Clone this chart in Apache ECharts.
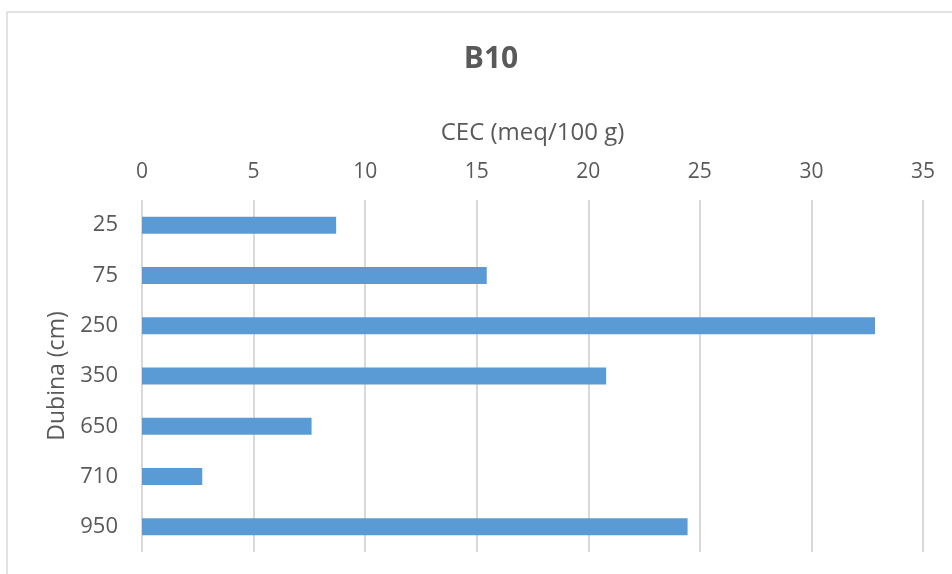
<!DOCTYPE html>
<html><head><meta charset="utf-8">
<script src="https://cdn.jsdelivr.net/npm/echarts@6/dist/echarts.min.js"></script>
<style>html,body{margin:0;padding:0;background:#fff}#c{width:952px;height:574px}</style>
</head><body><div id="c"></div>
<script>
const categories = ['25', '75', '250', '350', '650', '710', '950'];
const cecValues = [8.7, 15.45, 32.85, 20.8, 7.6, 2.7, 24.45];
const xTicks = [0, 35, 5];

const chart = echarts.init(document.getElementById('c'));
const font = 'Open Sans, Liberation Sans, sans-serif';
chart.setOption({
  animation: false,
  backgroundColor: '#fff',
  graphic: [{type: 'rect', shape: {x: 7, y: 12, width: 970, height: 600}, style: {fill: 'none', stroke: '#d9d9d9', lineWidth: 1.5}}],
  title: {text: 'B10', left: 486, top: 39, textAlign: 'center',
    textStyle: {fontFamily: font, fontSize: 30, fontWeight: 'bold', color: '#595959'}},
  grid: {left: 142, right: 29, top: 200, bottom: 22},
  xAxis: {type: 'value', position: 'top', min: xTicks[0], max: xTicks[1], interval: xTicks[2],
    name: 'CEC (meq/100 g)', nameLocation: 'middle', nameGap: 55,
    nameTextStyle: {fontFamily: font, fontSize: 24, color: '#595959'},
    axisLine: {show: false}, axisTick: {show: false},
    axisLabel: {fontFamily: font, fontSize: 21, color: '#595959', margin: 17},
    splitLine: {show: true, lineStyle: {color: '#d9d9d9', width: 2}}},
  yAxis: {type: 'category', inverse: true, data: categories,
    name: 'Dubina (cm)', nameLocation: 'middle', nameGap: 70, nameRotate: 90,
    nameTextStyle: {fontFamily: font, fontSize: 23, color: '#595959'},
    axisLine: {show: false}, axisTick: {show: false},
    axisLabel: {fontFamily: font, fontSize: 22, color: '#595959', margin: 24}},
  series: [{type: 'bar', data: cecValues, barWidth: 17, itemStyle: {color: '#5b9bd5'}}]
});
</script></body></html>
